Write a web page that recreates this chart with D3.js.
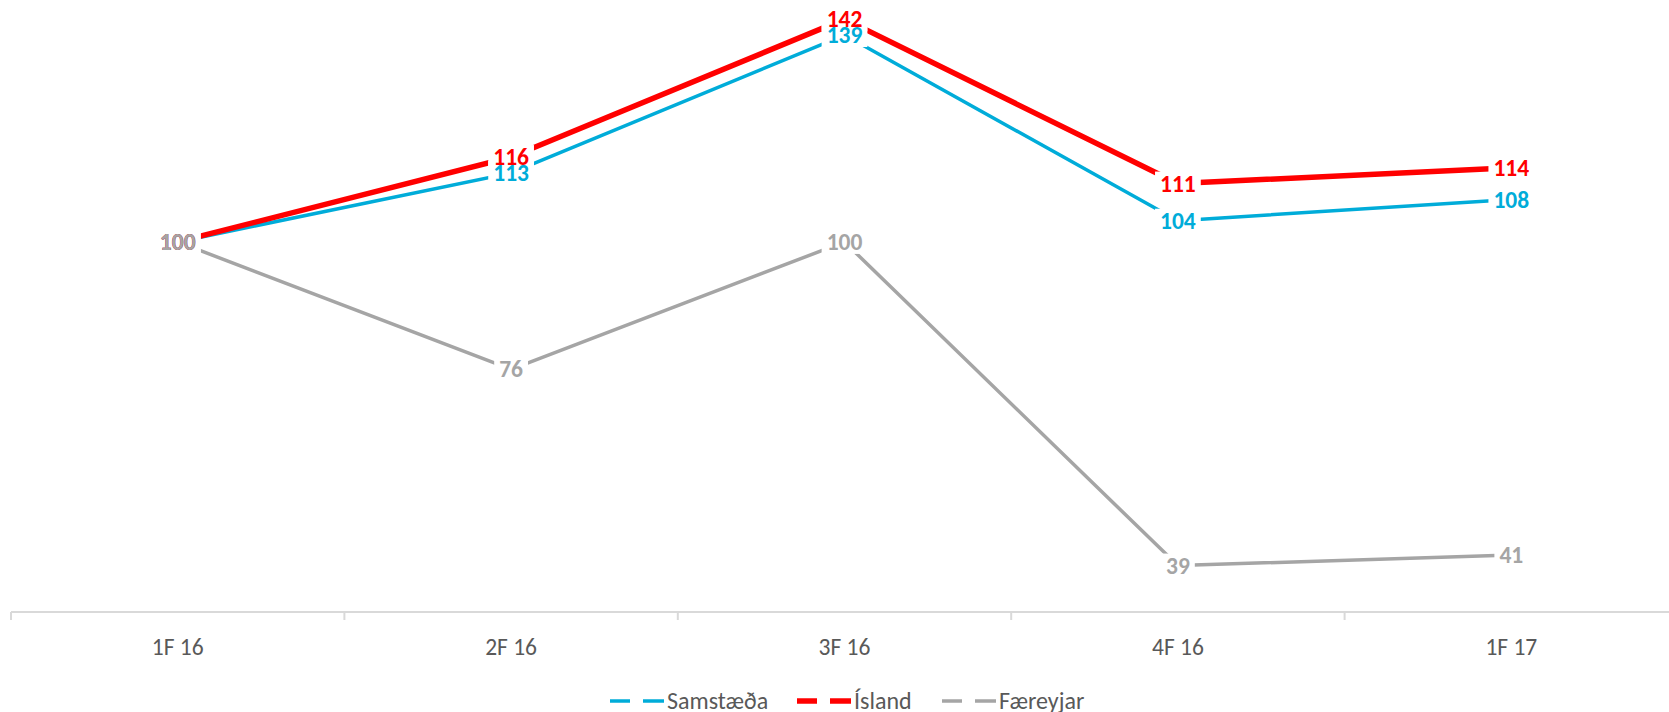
<!DOCTYPE html>
<html>
<head>
<meta charset="utf-8">
<script src="https://cdn.jsdelivr.net/npm/d3@7"></script>
<style>
  body { margin: 0; background: #fff; }
  svg { display: block; font-family: Carlito, Calibri, "Open Sans", "Liberation Sans", sans-serif; }
</style>
</head>
<body>
<svg id="chart" width="1669" height="712"></svg>
<script>
// Data
const categories = ['1F 16', '2F 16', '3F 16', '4F 16', '1F 17'];
const samstaeda = [100, 113, 139, 104, 108];
const island = [100, 116, 142, 111, 114];
const faereyjar = [100, 76, 100, 39, 41];

const series = [
  { name: 'Samstæða', values: samstaeda, color: '#00ACD9', width: 3.5 },
  { name: 'Ísland', values: island, color: '#FF0000', width: 5.5 },
  { name: 'Færeyjar', values: faereyjar, color: '#A5A5A5', width: 3.5 }
];

const width = 1669, height = 712;
const axisY = 612;

const svg = d3.select('#chart');

// x axis spans past the right edge, like the source
const x = d3.scaleBand()
  .domain(categories)
  .range([11, 1678])
  .padding(0);

const y = d3.scaleLinear()
  .domain([30.25, 145.6])
  .range([axisY, 0]);

const cx = c => x(c) + x.bandwidth() / 2;

// X axis
const xAxisG = svg.append('g')
  .attr('transform', `translate(0,${axisY})`);

xAxisG.append('line')
  .attr('x1', x.range()[0]).attr('x2', x.range()[1])
  .attr('stroke', '#D9D9D9').attr('stroke-width', 2);

const tickXs = categories.map(c => x(c)).concat([x.range()[1]]);
xAxisG.selectAll('.tick-mark')
  .data(tickXs)
  .enter().append('line')
  .attr('x1', d => d).attr('x2', d => d)
  .attr('y1', 0).attr('y2', 8)
  .attr('stroke', '#D9D9D9').attr('stroke-width', 2);

xAxisG.selectAll('.tick-label')
  .data(categories)
  .enter().append('text')
  .attr('x', d => cx(d))
  .attr('y', 35)
  .attr('dy', '0.35em')
  .attr('text-anchor', 'middle')
  .attr('fill', '#595959')
  .style('font-size', '23.5px')
  .text(d => d);

// Lines
const line = d3.line()
  .x((d, i) => cx(categories[i]))
  .y(d => y(d));

svg.selectAll('.series-line')
  .data(series)
  .enter().append('path')
  .attr('fill', 'none')
  .attr('stroke', d => d.color)
  .attr('stroke-width', d => d.width)
  .attr('stroke-linejoin', 'round')
  .attr('d', d => line(d.values));

// Data labels: white box behind each, then the text
const labelSize = 23.5;
const bgG = svg.append('g');
const txtG = svg.append('g');
series.forEach(s => {
  s.values.forEach((v, i) => {
    const t = txtG.append('text')
      .attr('x', cx(categories[i]))
      .attr('y', y(v))
      .attr('dy', '0.35em')
      .attr('text-anchor', 'middle')
      .attr('fill', s.color)
      .style('font-size', labelSize + 'px')
      .style('font-weight', 'bold')
      .text(v);
    const w = t.node().getComputedTextLength();
    bgG.append('rect')
      .attr('x', cx(categories[i]) - w / 2 - 5)
      .attr('y', y(v) - 12)
      .attr('width', w + 10)
      .attr('height', 24)
      .attr('fill', '#fff');
  });
});

// Legend
const legendStarts = [610, 797, 942];
const legendY = 701;
series.forEach((s, i) => {
  const g = svg.append('g').attr('transform', `translate(${legendStarts[i]},${legendY})`);
  g.append('line').attr('x1', 0).attr('x2', 20).attr('y1', 0).attr('y2', 0)
    .attr('stroke', s.color).attr('stroke-width', s.width);
  g.append('line').attr('x1', 33).attr('x2', 54).attr('y1', 0).attr('y2', 0)
    .attr('stroke', s.color).attr('stroke-width', s.width);
  g.append('text')
    .attr('x', 57).attr('y', 0).attr('dy', '0.35em')
    .attr('fill', '#595959')
    .style('font-size', '24px')
    .text(s.name);
});
</script>
</body>
</html>
